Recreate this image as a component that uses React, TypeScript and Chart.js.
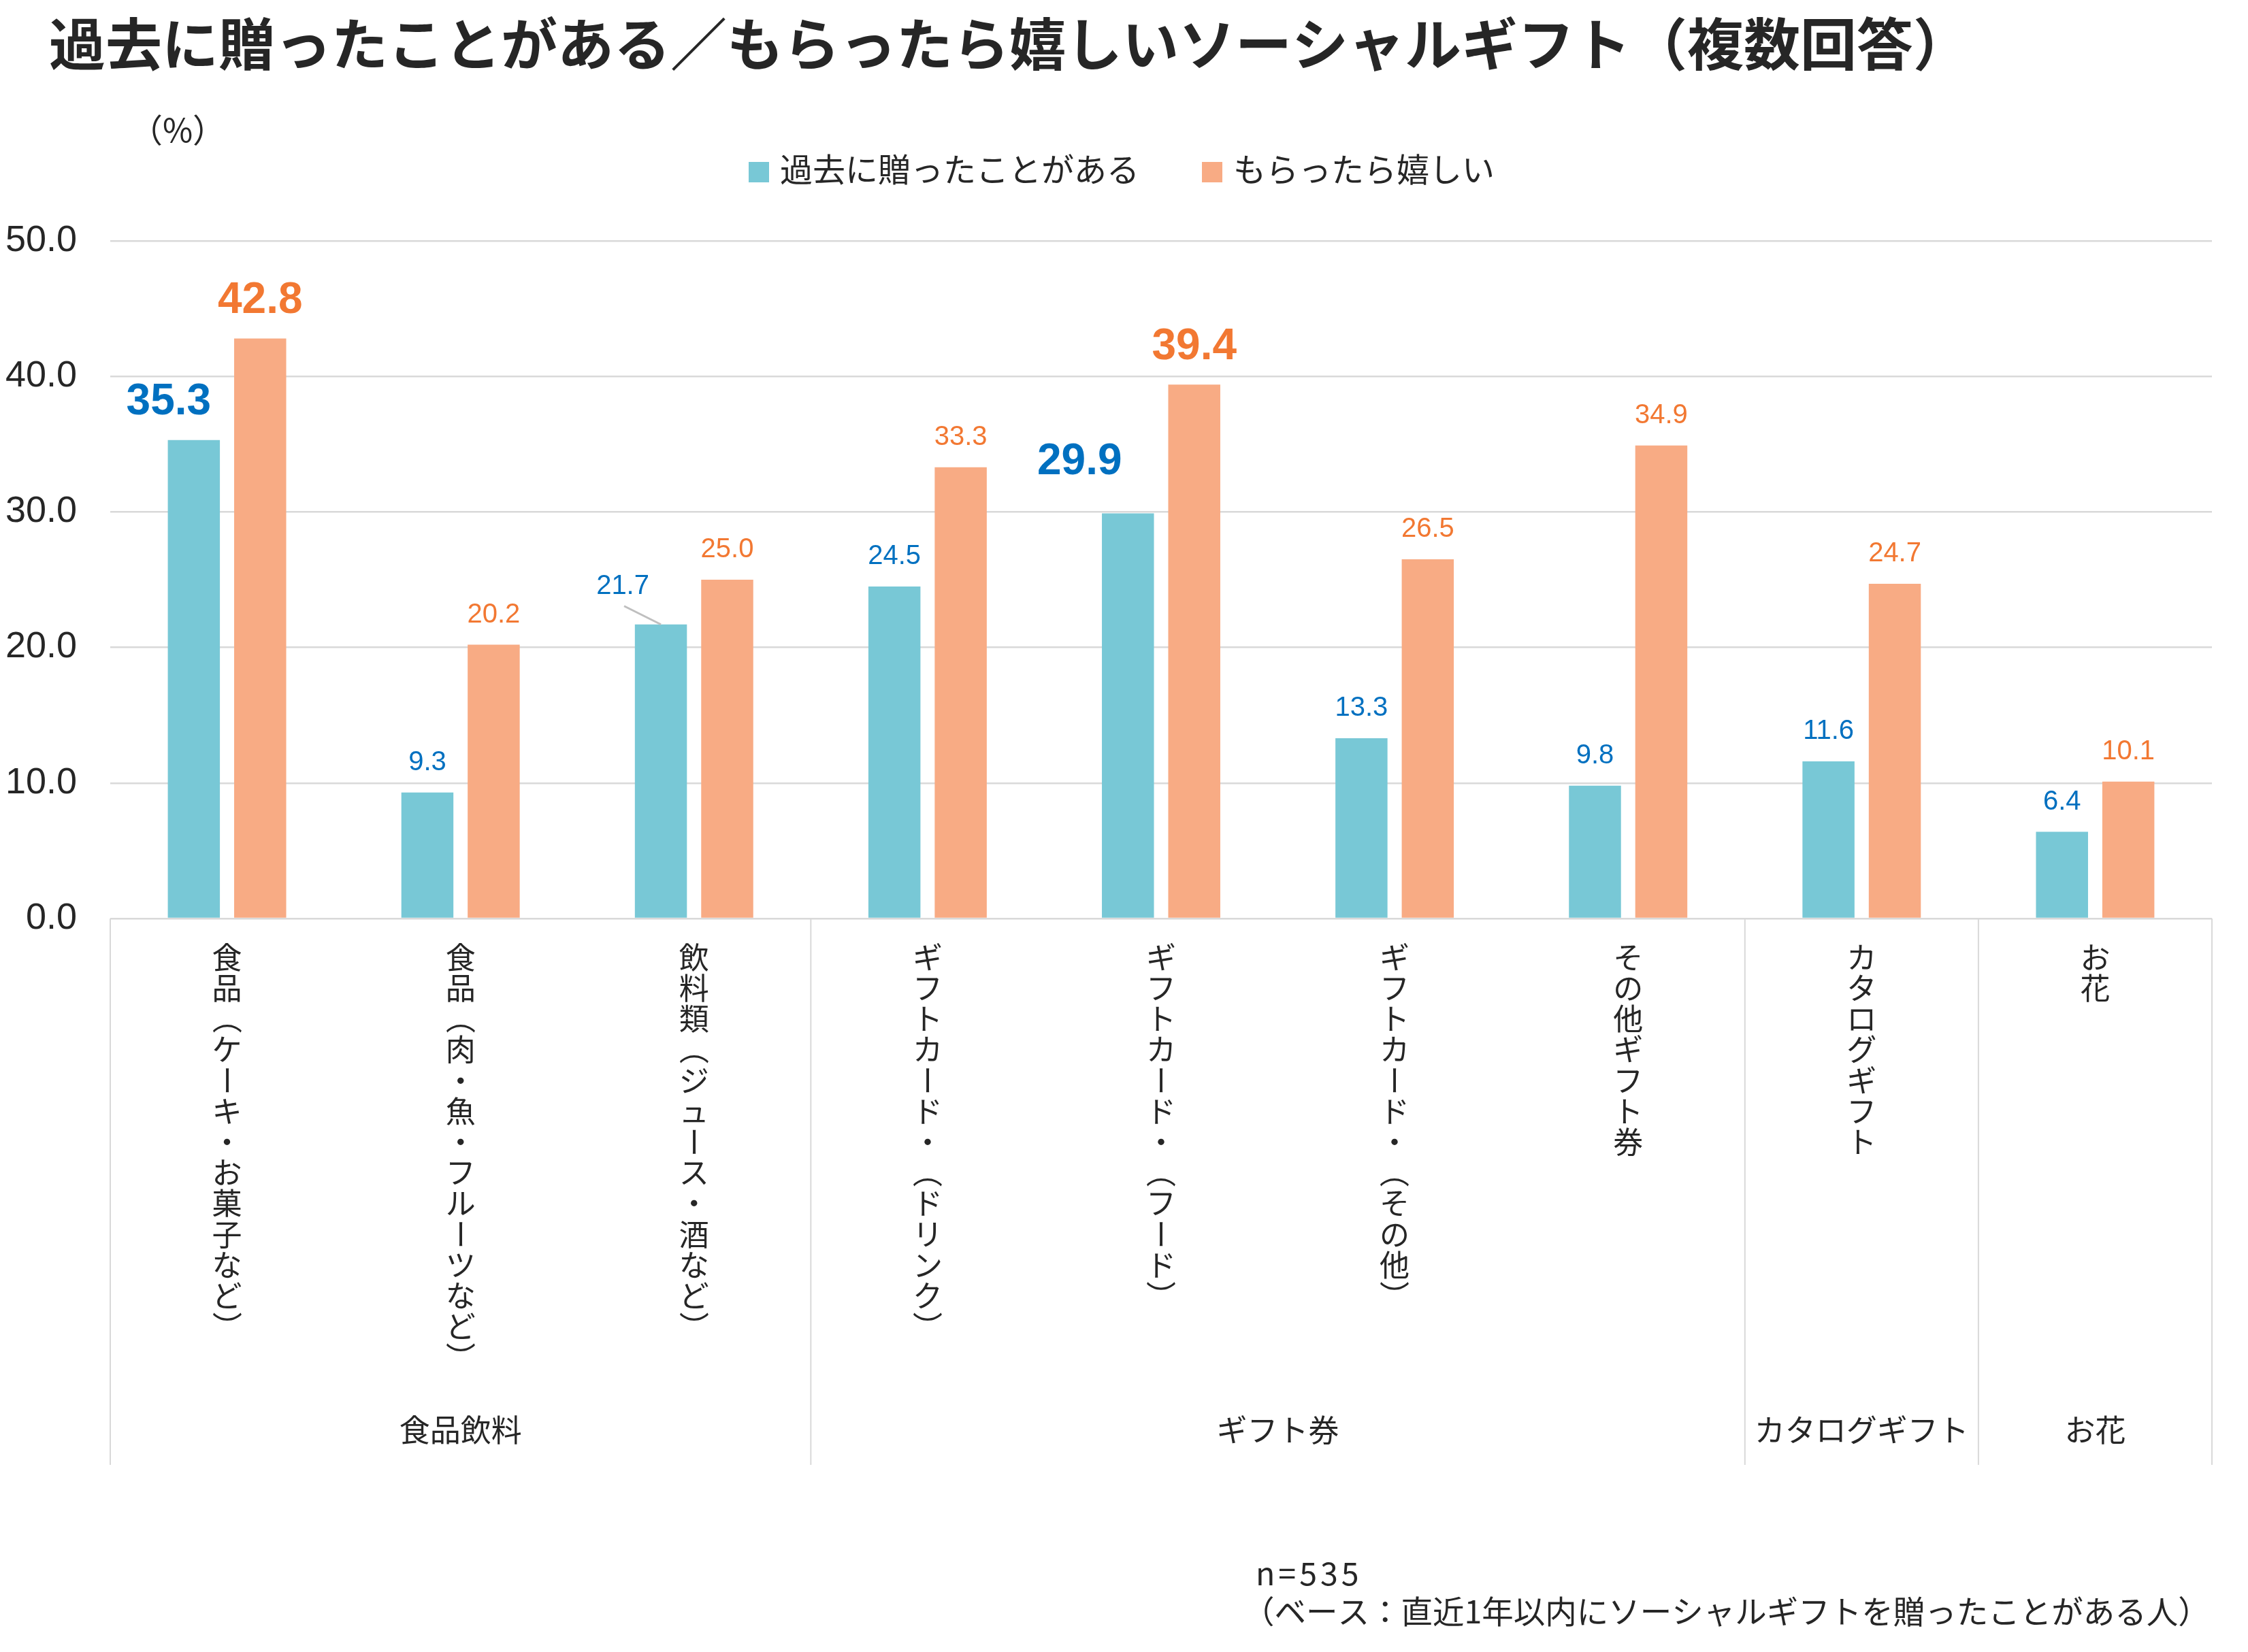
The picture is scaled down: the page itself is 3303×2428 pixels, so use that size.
import React, { useEffect, useRef } from 'react';
import { Chart, registerables } from 'chart.js';

Chart.register(...registerables);

// ---- data ----
const categories = [
  '食品（ケーキ・お菓子など）',
  '食品（肉・魚・フルーツなど）',
  '飲料類（ジュース・酒など）',
  'ギフトカード・（ドリンク）',
  'ギフトカード・（フード）',
  'ギフトカード・（その他）',
  'その他ギフト券',
  'カタログギフト',
  'お花',
];
const groupNames = ['食品飲料', 'ギフト券', 'カタログギフト', 'お花'];
const groupSpans = [3, 4, 1, 1];
const seriesNames = ['過去に贈ったことがある', 'もらったら嬉しい'];
const sentValues = [35.3, 9.3, 21.7, 24.5, 29.9, 13.3, 9.8, 11.6, 6.4];
const wantedValues = [42.8, 20.2, 25.0, 33.3, 39.4, 26.5, 34.9, 24.7, 10.1];
const yTickValues = [0, 10, 20, 30, 40, 50];

const titleText = '過去に贈ったことがある／もらったら嬉しいソーシャルギフト（複数回答）';
const unitText = '（%）';
const sampleText = 'n=535';
const baseText = '（ベース：直近1年以内にソーシャルギフトを贈ったことがある人）';

// ---- style ----
const W = 3303;
const H = 2428;
const JP = "'Noto Sans CJK JP', 'Noto Sans', sans-serif";
const NUM = "'Liberation Sans', Arial, sans-serif";
const BAR_COLORS = ['#78C8D6', '#F8AB84'];
const LABEL_COLORS = ['#0070C0', '#F27832'];
const TEXT = '#262626';
const GRID = '#D9D9D9';

// label nudges keyed by "dataset-index": [dx, dy]
const labelNudges: Record<string, [number, number]> = {
  '0-0': [-37, 0],
  '0-2': [-56, -12],
  '0-4': [-71, -20],
};
const leaderLines = new Set(['0-2']);
// glyphs turned sideways when written top-to-bottom
const ROTATED = new Set(['（', '）', 'ー']);

const secondLargest = (vals: number[]) => {
  const sorted = [...vals].sort((a, b) => b - a);
  return sorted[1];
};

const decorPlugin = {
  id: 'decor',
  afterDraw(chart: any) {
    const { ctx, chartArea } = chart;
    const xs = chart.scales.x;
    ctx.save();

    // title
    ctx.fillStyle = TEXT;
    ctx.font = `700 83px ${JP}`;
    ctx.textAlign = 'left';
    ctx.textBaseline = 'middle';
    ctx.fillText(titleText, 72, 64);

    // unit
    ctx.font = `400 48px ${JP}`;
    ctx.textAlign = 'center';
    ctx.fillText(unitText, 261, 191);

    // legend
    ctx.font = `400 48px ${JP}`;
    ctx.textAlign = 'left';
    const widths = seriesNames.map((n) => ctx.measureText(n).width);
    const box = 30;
    const boxGap = 16;
    const itemGap = 92;
    const total =
      widths.reduce((a, w) => a + box + boxGap + w, 0) + itemGap * (seriesNames.length - 1);
    let lx = 1648 - total / 2;
    seriesNames.forEach((name, i) => {
      ctx.fillStyle = BAR_COLORS[i];
      ctx.fillRect(lx, 238, box, box);
      ctx.fillStyle = TEXT;
      ctx.fillText(name, lx + box + boxGap, 249);
      lx += box + boxGap + widths[i] + itemGap;
    });

    // value labels
    chart.data.datasets.forEach((ds: any, d: number) => {
      const meta = chart.getDatasetMeta(d);
      const cut = secondLargest(ds.data);
      meta.data.forEach((bar: any, i: number) => {
        const v = ds.data[i];
        const big = v >= cut;
        const key = `${d}-${i}`;
        const [dx, dy] = labelNudges[key] || [0, 0];
        const lxp = bar.x + dx;
        const lyp = bar.y - (big ? 55 : 44) + dy;
        if (leaderLines.has(key)) {
          ctx.strokeStyle = '#BFBFBF';
          ctx.lineWidth = 3;
          ctx.beginPath();
          ctx.moveTo(lxp + 2, lyp + 29);
          ctx.lineTo(bar.x, bar.y);
          ctx.stroke();
        }
        ctx.fillStyle = LABEL_COLORS[d];
        ctx.font = big ? `700 64px ${NUM}` : `400 40px ${NUM}`;
        ctx.textAlign = 'center';
        ctx.textBaseline = 'middle';
        ctx.fillText(v.toFixed(1), lxp, lyp);
      });
    });

    // vertical category labels
    ctx.fillStyle = TEXT;
    ctx.font = `400 44px ${JP}`;
    ctx.textAlign = 'center';
    ctx.textBaseline = 'middle';
    categories.forEach((label, i) => {
      const cx = xs.getPixelForValue(i);
      Array.from(label).forEach((ch, k) => {
        const cy = chartArea.bottom + 57 + k * 45.2;
        if (ROTATED.has(ch)) {
          ctx.save();
          ctx.translate(cx, cy);
          ctx.rotate(Math.PI / 2);
          ctx.fillText(ch, 0, 0);
          ctx.restore();
        } else {
          ctx.fillText(ch, cx, cy);
        }
      });
    });

    // group separators and names
    const bounds = [chartArea.left];
    let idx = 0;
    groupSpans.forEach((span) => {
      idx += span;
      bounds.push(
        idx < categories.length
          ? (xs.getPixelForValue(idx - 1) + xs.getPixelForValue(idx)) / 2
          : chartArea.right
      );
    });
    ctx.strokeStyle = GRID;
    ctx.lineWidth = 2;
    bounds.forEach((bx) => {
      ctx.beginPath();
      ctx.moveTo(bx, chartArea.bottom);
      ctx.lineTo(bx, xs.bottom);
      ctx.stroke();
    });
    ctx.font = `400 45px ${JP}`;
    groupNames.forEach((g, i) => {
      ctx.fillText(g, (bounds[i] + bounds[i + 1]) / 2, 2102);
    });

    // footnote
    ctx.textAlign = 'left';
    ctx.font = `400 46.5px ${JP}`;
    ctx.letterSpacing = '5px';
    ctx.fillText(sampleText, 1845, 2312);
    ctx.letterSpacing = '0px';
    ctx.fillText(baseText, 1826, 2368);

    ctx.restore();
  },
};

export default function App() {
  const canvasRef = useRef<HTMLCanvasElement | null>(null);

  useEffect(() => {
    const canvas = canvasRef.current;
    if (!canvas) return;
    const chart = new Chart(canvas, {
      type: 'bar',
      data: {
        labels: categories,
        datasets: [
          {
            label: seriesNames[0],
            data: sentValues,
            backgroundColor: BAR_COLORS[0],
            categoryPercentage: 0.568,
            barPercentage: 0.785,
          },
          {
            label: seriesNames[1],
            data: wantedValues,
            backgroundColor: BAR_COLORS[1],
            categoryPercentage: 0.568,
            barPercentage: 0.785,
          },
        ],
      },
      options: {
        responsive: false,
        maintainAspectRatio: false,
        devicePixelRatio: 1,
        animation: false,
        layout: { padding: { top: 354, right: 53, bottom: 275, left: 0 } },
        plugins: {
          legend: { display: false },
          title: { display: false },
          tooltip: { enabled: false },
        },
        scales: {
          x: {
            grid: { display: false },
            border: { display: false },
            ticks: { display: false },
            afterFit: (s: any) => {
              s.height = 803;
            },
          },
          y: {
            min: 0,
            max: 50,
            afterBuildTicks: (s: any) => {
              s.ticks = yTickValues.map((v) => ({ value: v }));
            },
            ticks: {
              callback: (v: any) => Number(v).toFixed(1),
              font: { family: NUM, size: 54 },
              color: TEXT,
              padding: 49,
            },
            grid: { color: GRID, lineWidth: 2.5, drawTicks: false },
            border: { display: false },
            afterFit: (s: any) => {
              s.width = 162;
            },
          },
        },
      },
      plugins: [decorPlugin],
    });
    return () => chart.destroy();
  }, []);

  return (
    <div style={{ position: 'fixed', left: 0, top: 0, width: W, height: H, background: '#fff' }}>
      <canvas ref={canvasRef} width={W} height={H} style={{ width: W, height: H, display: 'block' }} />
    </div>
  );
}
